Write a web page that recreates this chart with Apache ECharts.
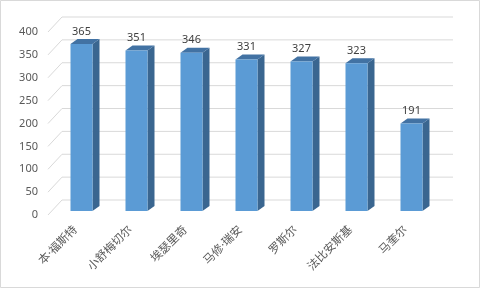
<!DOCTYPE html>
<html><head><meta charset="utf-8">
<script src="https://cdn.jsdelivr.net/npm/echarts@6/dist/echarts.min.js"></script>
<style>html,body{margin:0;padding:0;background:#fff}#c{width:480px;height:288px}</style>
</head><body><div id="c"></div>
<script>
const categories = ['本·福斯特','小舒梅切尔','埃瑟里奇','马修·瑞安','罗斯尔','法比安斯基','马奎尔'];
const values = [365, 351, 346, 331, 327, 323, 191];
const yTicks = [0, 50, 100, 150, 200, 250, 300, 350, 400];

const FONT = '"Noto Sans","Noto Sans CJK SC",sans-serif';
const TXT = '#595959';
const chart = echarts.init(document.getElementById('c'), null, {renderer: 'canvas'});

const WALL_DX = 14, WALL_DY = -15;
const BAR_DX = 6, BAR_DY = -4, DEP_X = 7, DEP_Y = -5;

chart.setOption({
  animation: false,
  backgroundColor: '#fff',
  graphic: [{type: 'rect', shape: {x: 0.5, y: 0.5, width: 479, height: 287}, style: {fill: 'none', stroke: '#d9d9d9', lineWidth: 1}, silent: true, z: -10}],
  grid: {left: 48, right: 47, top: 32, bottom: 73, containLabel: false},
  xAxis: {
    type: 'category', data: categories,
    axisLine: {show: false}, axisTick: {show: false}, splitLine: {show: false},
    axisLabel: {rotate: 45, interval: 0, fontSize: 11.5, color: TXT, fontFamily: FONT, margin: 13}
  },
  yAxis: {
    type: 'value', min: 0, max: 400, interval: 50,
    axisLine: {show: false}, axisTick: {show: false}, splitLine: {show: false},
    axisLabel: {fontSize: 11, color: TXT, fontFamily: FONT, margin: 10}
  },
  series: [
    {
      type: 'custom', z: 1, silent: true, clip: false,
      data: yTicks.map(v => [0, v]),
      encode: {x: 0, y: 1},
      renderItem: function (params, api) {
        const cs = params.coordSys;
        const y = api.coord([0, api.value(1)])[1];
        return {
          type: 'polyline',
          shape: {points: [[cs.x, y], [cs.x + WALL_DX, y + WALL_DY], [cs.x + cs.width + 20, y + WALL_DY]]},
          style: {stroke: '#d9d9d9', lineWidth: 1, fill: null}
        };
      }
    },
    {
      type: 'custom', z: 5, clip: false,
      data: values.map((v, i) => [i, v]),
      encode: {x: 0, y: 1},
      renderItem: function (params, api) {
        const i = api.value(0), v = api.value(1);
        const top = api.coord([i, v]);
        const base = api.coord([i, 0]);
        const w = api.size([1, 0])[0] * 0.4;
        const x0 = top[0] + BAR_DX - w / 2;
        const ty = top[1] + BAR_DY, by = base[1] + BAR_DY;
        return {
          type: 'group',
          children: [
            {type: 'polygon', shape: {points: [[x0 + w, ty], [x0 + w + DEP_X, ty + DEP_Y], [x0 + w + DEP_X, by + DEP_Y], [x0 + w, by]]},
             style: {fill: '#3a6690'}},
            {type: 'polygon', shape: {points: [[x0, ty], [x0 + DEP_X, ty + DEP_Y], [x0 + w + DEP_X, ty + DEP_Y], [x0 + w, ty]]},
             style: {fill: '#4272a3'}},
            {type: 'rect', shape: {x: x0, y: ty, width: w, height: by - ty},
             style: {fill: '#5b9bd5'}},
            {type: 'text', x: x0 + w / 2, y: ty + DEP_Y - 2,
             style: {text: String(v), fill: '#404040', font: '11px ' + FONT, align: 'center', verticalAlign: 'bottom'}}
          ]
        };
      }
    }
  ]
});
</script>
</body></html>
